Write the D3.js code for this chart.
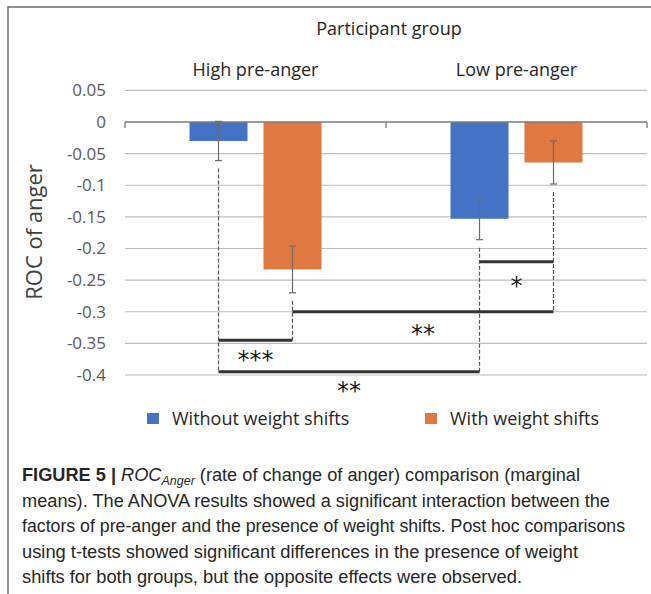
<!DOCTYPE html>
<html><head><meta charset="utf-8">
<script src="https://cdn.jsdelivr.net/npm/d3@7"></script>
<style>
html,body{margin:0;padding:0;background:#fff;}
svg{display:block;}
</style></head>
<body>
<svg id="chart" width="651" height="594"></svg>
<script>
// ---- data ----
const groups = ["High pre-anger", "Low pre-anger"];
const seriesNames = ["Without weight shifts", "With weight shifts"];
const withoutValues = [-0.030, -0.153];
const withValues = [-0.233, -0.064];
const withoutErrors = [0.031, 0.033];
const withErrors = [0.037, 0.034];
const yTicks = [0.05, 0, -0.05, -0.1, -0.15, -0.2, -0.25, -0.3, -0.35, -0.4];
const yTickLabels = ["0.05", "0", "-0.05", "-0.1", "-0.15", "-0.2", "-0.25", "-0.3", "-0.35", "-0.4"];
// significance brackets: endpoints [group, series], bracket level (value), star centre (value)
const brackets = [
  {a: [0, 0], b: [0, 1], level: -0.345, stars: "***", starY: -0.367},
  {a: [0, 1], b: [1, 1], level: -0.300, stars: "**", starY: -0.325},
  {a: [0, 0], b: [1, 0], level: -0.395, stars: "**", starY: -0.416},
  {a: [1, 0], b: [1, 1], level: -0.221, stars: "*", starY: -0.249}
];
const captionLines = [
  "(rate of change of anger) comparison (marginal",
  "means). The ANOVA results showed a significant interaction between the",
  "factors of pre-anger and the presence of weight shifts. Post hoc comparisons",
  "using t-tests showed significant differences in the presence of weight",
  "shifts for both groups, but the opposite effects were observed."
];

const colors = ["#4472C4", "#E07840"];
const svg = d3.select("#chart");

// frame
svg.append("path").attr("d", "M8,594 L8,7 L651,7").attr("fill", "none")
  .attr("stroke", "#6b6b6b").attr("stroke-width", 1.5);

const left = 125, right = 647;
const y = d3.scaleLinear().domain([-0.4, 0.05]).range([375, 90.4]);
const x0 = d3.scaleBand().domain(groups).range([left, right]).padding(0);
const x1 = d3.scaleBand().domain(seriesNames).range([0, x0.bandwidth()])
  .paddingInner(0.216).paddingOuter(0.872);

// gridlines
svg.append("g").selectAll("line").data(yTicks.filter(d => d !== 0)).join("line")
  .attr("x1", left).attr("x2", right)
  .attr("y1", d => y(d)).attr("y2", d => y(d))
  .attr("stroke", "#bdbdbd").attr("stroke-width", 1.2);

// y tick labels
svg.append("g").selectAll("text").data(yTicks).join("text")
  .attr("x", 106).attr("y", d => y(d)).attr("dy", "0.35em")
  .attr("text-anchor", "end").attr("font-family", "Open Sans, sans-serif")
  .attr("font-size", 17).attr("fill", "#595959")
  .text((d, i) => yTickLabels[i]);

// bars
const data = [];
groups.forEach((g, gi) => {
  data.push({g, s: seriesNames[0], v: withoutValues[gi], e: withoutErrors[gi], c: colors[0]});
  data.push({g, s: seriesNames[1], v: withValues[gi], e: withErrors[gi], c: colors[1]});
});
svg.append("g").selectAll("rect").data(data).join("rect")
  .attr("x", d => x0(d.g) + x1(d.s)).attr("width", x1.bandwidth())
  .attr("y", d => y(Math.max(0, d.v))).attr("height", d => Math.abs(y(d.v) - y(0)))
  .attr("fill", d => d.c);

// zero axis
const axis = svg.append("g").attr("transform", `translate(0,${y(0)})`)
  .call(d3.axisBottom(x0).tickSize(0).tickFormat(""));
axis.select(".domain").remove();
axis.append("line").attr("x1", left).attr("x2", right).attr("stroke", "#7a7a7a").attr("stroke-width", 1.3);
const bounds = [left, x0(groups[1]), right];
axis.selectAll(".bt").data(bounds).join("line").attr("class", "bt")
  .attr("x1", d => d).attr("x2", d => d).attr("y1", 0).attr("y2", 6)
  .attr("stroke", "#7a7a7a").attr("stroke-width", 1.3);

// error bars
const cx = d => x0(d.g) + x1(d.s) + x1.bandwidth() / 2;
const eb = svg.append("g").attr("stroke", "#6b6b6b").attr("stroke-width", 1.2);
data.forEach(d => {
  const xc = cx(d);
  eb.append("line").attr("x1", xc).attr("x2", xc).attr("y1", y(d.v + d.e)).attr("y2", y(d.v - d.e));
  [d.v + d.e, d.v - d.e].forEach(v => eb.append("line")
    .attr("x1", xc - 3.5).attr("x2", xc + 3.5).attr("y1", y(v)).attr("y2", y(v)));
});

// significance
const posX = ([gi, si]) => x0(groups[gi]) + x1(seriesNames[si]) + x1.bandwidth() / 2;
const valOf = ([gi, si]) => si === 0 ? withoutValues[gi] - withoutErrors[gi] : withValues[gi] - withErrors[gi];
const drops = new Map();
brackets.forEach(b => [b.a, b.b].forEach(p => {
  const k = p.join("-");
  drops.set(k, Math.min(drops.has(k) ? drops.get(k) : 0, b.level));
}));
const sig = svg.append("g");
drops.forEach((lvl, k) => {
  const p = k.split("-").map(Number);
  sig.append("line").attr("x1", posX(p)).attr("x2", posX(p))
    .attr("y1", y(valOf(p)) + 8).attr("y2", y(lvl))
    .attr("stroke", "#555").attr("stroke-width", 1.2).attr("stroke-dasharray", "4,2");
});
brackets.forEach(b => {
  const xa = posX(b.a), xb = posX(b.b);
  sig.append("line").attr("x1", xa).attr("x2", xb).attr("y1", y(b.level)).attr("y2", y(b.level))
    .attr("stroke", "#333").attr("stroke-width", 3);
  sig.append("text").attr("x", (xa + xb) / 2).attr("y", y(b.starY) + 14)
    .attr("text-anchor", "middle").attr("font-family", "DejaVu Sans, sans-serif")
    .attr("font-size", 24).attr("fill", "#1a1a1a").text(b.stars);
});

// titles
const tf = "Open Sans, sans-serif";
svg.append("text").attr("x", (left + right) / 2 + 3).attr("y", 35).attr("text-anchor", "middle")
  .attr("font-family", tf).attr("font-size", 18).attr("fill", "#262626")
  .text("Participant group");
svg.append("g").selectAll("text").data(groups).join("text")
  .attr("x", d => x0(d) + x0.bandwidth() / 2).attr("y", 76).attr("text-anchor", "middle")
  .attr("font-family", tf).attr("font-size", 18).attr("fill", "#262626")
  .text(d => d);
svg.append("text").attr("transform", "translate(42,232) rotate(-90)").attr("text-anchor", "middle")
  .attr("font-family", tf).attr("font-size", 22).attr("fill", "#404040")
  .text("ROC of anger");

// legend
const legX = [147, 425];
const leg = svg.append("g").selectAll("g").data(seriesNames).join("g")
  .attr("transform", (d, i) => `translate(${legX[i]},413)`);
leg.append("rect").attr("width", 12).attr("height", 11).attr("fill", (d, i) => colors[i]);
leg.append("text").attr("x", 25).attr("y", 6).attr("dy", "0.35em")
  .attr("font-family", tf).attr("font-size", 18).attr("fill", "#262626")
  .text(d => d);

// caption
const capEnds = [580, 610, 625, 578, 522];
const cap = svg.append("g").attr("font-family", "Liberation Sans, Arial, sans-serif")
  .attr("font-size", 17.5).attr("fill", "#262626");
const lineY = [481, 507, 532, 558, 583];
const first = cap.append("text").attr("x", 22).attr("y", lineY[0])
  .attr("textLength", capEnds[0] - 22).attr("lengthAdjust", "spacingAndGlyphs");
first.append("tspan").attr("font-weight", "bold").text("FIGURE 5 | ");
first.append("tspan").attr("font-style", "italic").text("ROC");
first.append("tspan").attr("font-style", "italic").attr("font-size", 12).attr("dy", 4).text("Anger");
first.append("tspan").attr("dy", -4).text(" " + captionLines[0]);
captionLines.slice(1).forEach((t, i) => {
  cap.append("text").attr("x", 22).attr("y", lineY[i + 1])
    .attr("textLength", capEnds[i + 1] - 22).attr("lengthAdjust", "spacingAndGlyphs").text(t);
});
</script>
</body></html>
